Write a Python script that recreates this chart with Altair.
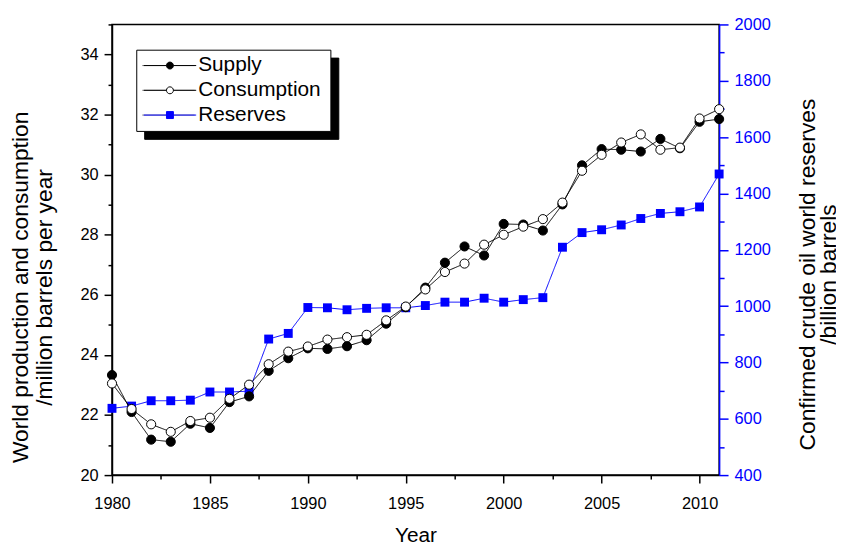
import altair as alt
import pandas as pd

years = list(range(1980, 2012))
supply = [23.33, 22.10, 21.18, 21.11, 21.71, 21.57, 22.43, 22.62, 23.47, 23.89,
          24.22, 24.20, 24.29, 24.49, 25.04, 25.59, 26.24, 27.07, 27.61, 27.31,
          28.36, 28.34, 28.14, 29.01, 30.31, 30.85, 30.83, 30.77, 31.19, 30.88,
          31.76, 31.85]
consumption = [23.05, 22.20, 21.69, 21.44, 21.80, 21.91, 22.54, 23.01, 23.69, 24.11,
               24.28, 24.51, 24.59, 24.67, 25.15, 25.61, 26.18, 26.76, 27.04, 27.67,
               28.00, 28.27, 28.52, 29.07, 30.13, 30.66, 31.07, 31.34, 30.83, 30.90,
               31.87, 32.18]
reserves = [637, 645, 664, 664, 666, 695, 695, 698, 883, 903,
            995, 994, 987, 992, 994, 994, 1002, 1014, 1014, 1028,
            1014, 1023, 1030, 1209, 1261, 1271, 1288, 1311, 1329, 1335,
            1352, 1469]
series_names = ["Supply", "Consumption", "Reserves"]
x_ticks = [1980 + 2.5 * i for i in range(13)]
left_ticks = list(range(20, 36))
right_ticks = list(range(400, 2001, 100))

BLUE = "#0000ff"
FONT = "Liberation Sans"
keys = [f"{i + 1}{n}" for i, n in enumerate(series_names)]

rows = []
for key, vals in [(keys[0], supply), (keys[1], consumption)]:
    for yr, v in zip(years, vals):
        rows.append({"year": yr, "value": v, "key": key, "kd": key, "kf": key})
df_left = pd.DataFrame(rows)
df_right = pd.DataFrame({"year": years, "value": reserves,
                         "key": keys[2], "kd": keys[2], "kf": keys[2]})
df_all = pd.concat([df_left, df_right], ignore_index=True)

# legend symbols: line with marker (unit coordinates, scaled by sqrt(size)/2)
HL = 7.57
circle_sym = f"M{-HL},0L-1,0M1,0L{HL},0M-1,0A1,1,0,1,0,1,0A1,1,0,1,0,-1,0Z"
square_sym = f"M{-HL},0L-1,0M1,0L{HL},0M-1,-1L1,-1L1,1L-1,1Z"

LX, LY = 24.5, 25.5
common_leg = dict(orient="none", title=None, labelFontSize=21, labelFont=FONT,
                  padding=5.5, rowPadding=3)
# frame and shadow boxes: blank labels, width carried by labelOffset
box_leg = dict(symbolType="stroke", symbolSize=2809, symbolStrokeWidth=1, symbolOpacity=0,
               clipHeight=21, labelOpacity=0, labelExpr="''", labelOffset=130.2,
               strokeColor="black")

legend_main = alt.Legend(legendX=LX, legendY=LY, symbolSize=49, symbolStrokeWidth=1,
                         symbolOffset=18, labelOffset=18, symbolOpacity=1,
                         labelExpr="substring(datum.label, 1)",
                         labelColor="black", zindex=2, **common_leg)
legend_frame = alt.Legend(legendX=LX, legendY=LY, fillColor="white", zindex=1,
                          **box_leg, **common_leg)
legend_shadow = alt.Legend(legendX=LX + 8, legendY=LY + 8, fillColor="black", zindex=0,
                           **box_leg, **common_leg)

x_enc = alt.X("year:Q", scale=alt.Scale(domain=[1980, 2011], nice=False, zero=False),
              axis=alt.Axis(orient="bottom", values=x_ticks, format="d",
                            labelExpr="datum.value % 5 === 0 ? datum.label : ''",
                            tickSize={"condition": {"test": "datum.value % 5 === 0", "value": 8}, "value": 4},
                            labelFontSize=16.5, labelPadding=13, labelFlush=False,
                            labelOverlap=False, grid=False, domainColor="black",
                            tickColor="black", labelColor="black", domainWidth=1.5,
                            tickWidth=1.5, title="Year", titleFontSize=21,
                            titleFontWeight="normal", titleBaseline="alphabetic",
                            titleY=67, titleColor="black"))

left_axis = alt.Axis(orient="left", values=left_ticks, format="d",
                     labelExpr="datum.value % 2 === 0 ? datum.label : ''",
                     tickSize={"condition": {"test": "datum.value % 2 === 0", "value": 8}, "value": 4},
                     labelFontSize=16.5, labelPadding=6, labelFlush=False, labelOverlap=False,
                     grid=False, domainColor="black", tickColor="black", labelColor="black",
                     domainWidth=1.5, tickWidth=1.5,
                     title=["World production and consumption", "/million barrels per year"],
                     titleFontSize=23, titleFontWeight="normal", titleColor="black",
                     titleAngle=270, titleAlign="center", titleBaseline="middle",
                     titleLineHeight=23.5, titleX=-92, titleY=265)

right_axis = alt.Axis(orient="right", values=right_ticks, format="d",
                      labelExpr="datum.value % 200 === 0 ? datum.label : ''",
                      tickSize={"condition": {"test": "datum.value % 200 === 0", "value": 9}, "value": 5},
                      labelFontSize=16.5, labelPadding=6, labelFlush=False, labelOverlap=False,
                      grid=False, domainColor=BLUE, tickColor=BLUE, labelColor=BLUE,
                      domainWidth=1.5, tickWidth=1.5,
                      title=["Confirmed crude oil world reserves",
                             "/billion barrels" + "\u00a0" * 16],
                      titleFontSize=23, titleFontWeight="normal", titleColor="black",
                      titleAngle=270, titleAlign="center", titleBaseline="middle",
                      titleLineHeight=21, titleX=89, titleY=252)

stroke_enc = alt.Stroke("key:N", scale=alt.Scale(domain=keys, range=["black", "black", BLUE]),
                        legend=legend_main)
fill_enc = alt.Fill("key:N", scale=alt.Scale(domain=keys, range=["black", "white", BLUE]),
                    legend=legend_main)
shape_enc = alt.Shape("key:N", scale=alt.Scale(domain=keys, range=[circle_sym, circle_sym, square_sym]),
                      legend=legend_main)
dash_enc = alt.StrokeDash("kd:N", scale=alt.Scale(range=[[1, 0], [1, 0], [1, 0]]), legend=legend_shadow)
frame_enc = alt.Opacity("kf:N", scale=alt.Scale(range=[1, 1, 1]), legend=legend_frame)

y_left = alt.Y("value:Q", scale=alt.Scale(domain=[20, 35], nice=False, zero=False), axis=left_axis)
y_right = alt.Y("value:Q", scale=alt.Scale(domain=[400, 2000], nice=False, zero=False), axis=right_axis)

left_line = alt.Chart(df_left).mark_line(strokeWidth=1).encode(
    x=x_enc, y=y_left, stroke=stroke_enc, strokeDash=dash_enc, opacity=frame_enc)
left_pts = alt.Chart(df_left).mark_point(shape="circle", opacity=1, size=85, strokeWidth=1).encode(
    x=x_enc, y=y_left, fill=fill_enc, stroke=stroke_enc)
legend_keys = alt.Chart(df_all).mark_point(opacity=0).encode(
    shape=shape_enc, fill=fill_enc, stroke=stroke_enc)

right_line = alt.Chart(df_right).mark_line(strokeWidth=1).encode(
    x=x_enc, y=y_right, stroke=stroke_enc, strokeDash=dash_enc, opacity=frame_enc)
right_pts = alt.Chart(df_right).mark_point(shape="square", opacity=1, size=81, strokeWidth=0).encode(
    x=x_enc, y=y_right, fill=fill_enc, stroke=stroke_enc)

chart = alt.layer(
    alt.layer(right_line, right_pts),
    alt.layer(left_line, left_pts, legend_keys),
).resolve_scale(y="independent").properties(
    width=613, height=455,
    autosize=alt.AutoSizeParams(type="none"),
    padding={"left": 105, "top": 14, "right": 118, "bottom": 70},
).configure(font=FONT).configure_view(stroke="black", strokeWidth=1.5)

chart.save("out.html", embed_options={"renderer": "svg", "actions": False})
